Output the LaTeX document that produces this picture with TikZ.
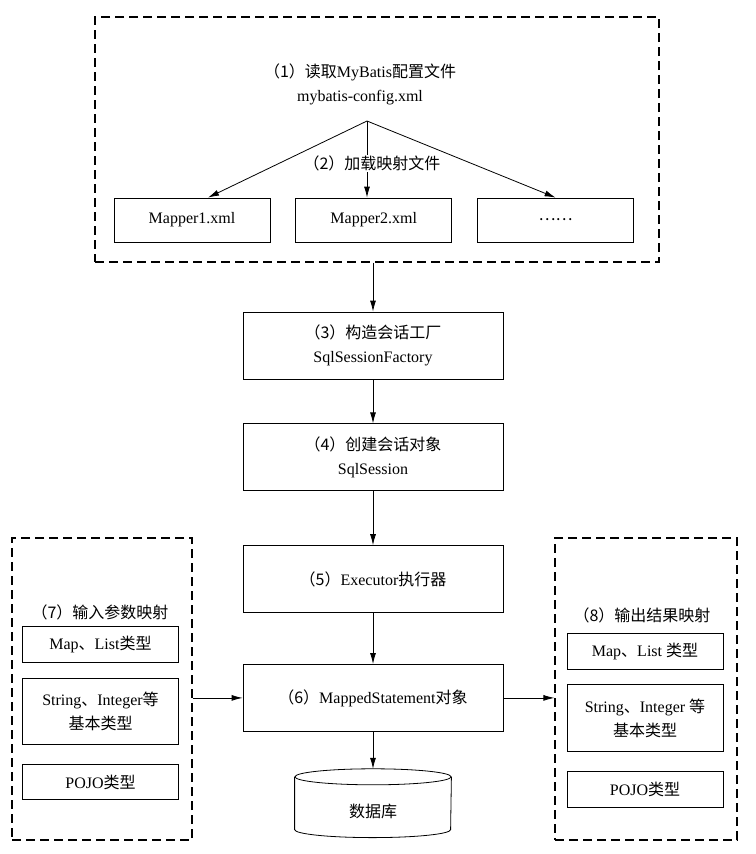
\documentclass[tikz,border=0pt]{standalone}
\usepackage{fontspec}
\setmainfont{Liberation Serif}
\newfontfamily\cjk{Noto Sans CJK SC}
\usetikzlibrary{positioning,arrows.meta}
\newcommand{\zh}[1]{{\cjk #1}}

\begin{document}
\begin{tikzpicture}[x=1pt, y=-1pt, font=\fontsize{16}{24}\selectfont,
  >={Latex[length=11pt,width=6pt]}, line width=0.8pt,
  box/.style={rectangle, draw, align=center, inner sep=0pt},
  mainbox/.style={box, minimum width=260pt, minimum height=67pt},
  mapbox/.style={box, minimum width=156pt, minimum height=44pt},
  typebox/.style={box, minimum width=156pt, minimum height=36pt},
  dashbox/.style={rectangle, draw, line width=1.2pt, dash pattern=on 9pt off 5pt, inner sep=0pt}]
  \useasboundingbox (0,0) rectangle (755,854);
  % configuration and mapper files
  \node[dashbox, minimum width=564pt, minimum height=245pt] (cfg) at (377,139.5) {};
  \node[align=center] (conf) at (360,84) {\zh{（1）读取}MyBatis\zh{配置文件}\\mybatis-config.xml};
  \node[coordinate] (fork) at (367,121) {};
  \node[mapbox] (m1) at (192,220) {Mapper1.xml};
  \node[mapbox, right=25pt of m1] (m2) {Mapper2.xml};
  \node[mapbox, right=25pt of m2] (m3) {\zh{……}};
  \draw[->] (fork) -- ([xshift=16pt]m1.north);
  \draw[->] (fork) -- node[pos=0.55, fill=white, inner sep=1pt, xshift=5pt] (load) {\zh{（2）加载映射文件}} (fork |- m2.north);
  \draw[->] (fork) -- (m3.north);
  % main chain
  \node[mainbox] (fac) at (373,345.5) {\zh{（3）构造会话工厂}\\SqlSessionFactory};
  \node[mainbox, below=44pt of fac] (ses) {\zh{（4）创建会话对象}\\SqlSession};
  \node[mainbox, below=54pt of ses] (exe) {\zh{（5）}Executor\zh{执行器}};
  \node[mainbox, below=51pt of exe] (ms) {\zh{（6）}MappedStatement\zh{对象}};
  \node[minimum width=156pt, minimum height=68pt, inner sep=0pt, below=37pt of ms] (db) {};
  \draw ([yshift=-8pt]db.north west) -- ([yshift=8pt]db.south west)
    arc[start angle=180, end angle=360, x radius=78pt, y radius=8pt] -- ([yshift=-8pt]db.north east);
  \draw ([yshift=-8pt]db.north) ellipse [x radius=78pt, y radius=8pt];
  \node (dbtxt) at ([yshift=-8pt]db.center) {\zh{数据库}};
  \draw[->] (cfg.south -| fac.north) -- (fac.north);
  \draw[->] (fac) -- (ses);
  \draw[->] (ses) -- (exe);
  \draw[->] (exe) -- (ms);
  \draw[->] (ms) -- (db.north);
  % input mapping
  \node[dashbox, minimum width=180pt, minimum height=302pt] (inp) at (102,689) {};
  \node (inlbl) at (100,612) {\zh{（7）输入参数映射}};
  \node[typebox] (inmap) at (100.5,644) {Map\zh{、}List\zh{类型}};
  \node[typebox, minimum height=66pt, below=16pt of inmap] (instr) {String\zh{、}Integer\zh{等}\\\zh{基本类型}};
  \node[typebox, minimum height=35pt, below=19pt of instr] (inpojo) {POJO\zh{类型}};
  \draw[->] (inp.east |- ms.west) -- (ms.west);
  % output mapping
  \node[dashbox, minimum width=182pt, minimum height=302pt] (outp) at (646,689) {};
  \node (outlbl) at (642,615) {\zh{（8）输出结果映射}};
  \node[typebox] (outmap) at (645,651) {Map\zh{、}List \zh{类型}};
  \node[typebox, minimum height=67pt, below=15pt of outmap] (outstr) {String\zh{、}Integer \zh{等}\\\zh{基本类型}};
  \node[typebox, below=19pt of outstr] (outpojo) {POJO\zh{类型}};
  \draw[->] (ms.east) -- (ms.east -| outp.west);
\end{tikzpicture}
\end{document}
